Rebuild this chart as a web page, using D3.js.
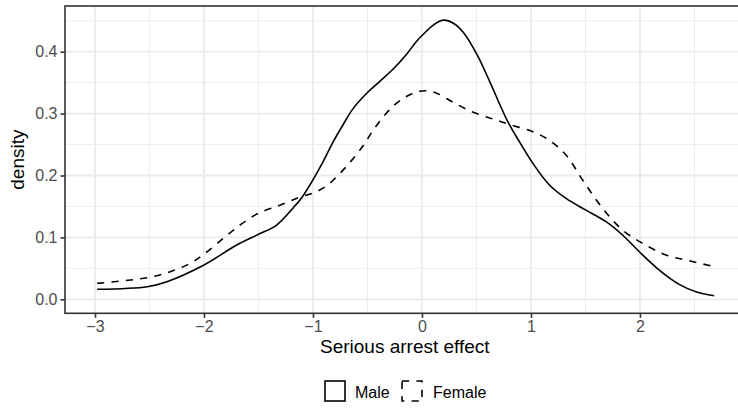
<!DOCTYPE html>
<html>
<head>
<meta charset="utf-8">
<script src="https://cdn.jsdelivr.net/npm/d3@7"></script>
<style>
  html, body { margin: 0; padding: 0; background: #fff; }
  svg { display: block; font-family: "Liberation Sans", Arial, Helvetica, sans-serif; }
</style>
</head>
<body>
<svg id="chart" width="738" height="409"></svg>
<script>
// ---- Data ----
const maleX = [-2.98, -2.52, -2.34, -2.0, -1.70, -1.50, -1.333, -1.18, -1.10, -1.0, -0.908, -0.816, -0.724, -0.632, -0.5, -0.387, -0.264, -0.141, -0.049, 0.006, 0.104, 0.196, 0.288, 0.380, 0.503, 0.626, 0.779, 0.896, 1.017, 1.169, 1.322, 1.505, 1.689, 1.84, 1.994, 2.177, 2.36, 2.513, 2.68];
const maleY = [0.0162, 0.0204, 0.0284, 0.0554, 0.0877, 0.105, 0.120, 0.148, 0.165, 0.193, 0.222, 0.254, 0.282, 0.308, 0.334, 0.352, 0.372, 0.396, 0.417, 0.427, 0.443, 0.451, 0.446, 0.431, 0.396, 0.350, 0.290, 0.254, 0.2197, 0.1847, 0.163, 0.144, 0.1254, 0.1039, 0.0769, 0.0473, 0.0242, 0.0123, 0.0058];
const femaleX = [-2.98, -2.52, -2.31, -2.127, -2.0, -1.822, -1.669, -1.50, -1.303, -1.123, -1.0, -0.877, -0.755, -0.647, -0.540, -0.448, -0.325, -0.202, -0.08, 0.028, 0.135, 0.288, 0.472, 0.656, 0.810, 1.017, 1.169, 1.322, 1.474, 1.657, 1.84, 2.024, 2.238, 2.451, 2.68];
const femaleY = [0.0258, 0.0349, 0.0446, 0.058, 0.073, 0.0985, 0.120, 0.139, 0.152, 0.165, 0.1715, 0.183, 0.203, 0.224, 0.248, 0.273, 0.301, 0.321, 0.333, 0.337, 0.333, 0.318, 0.302, 0.291, 0.282, 0.2708, 0.257, 0.233, 0.1927, 0.147, 0.112, 0.0905, 0.0716, 0.0624, 0.0527];

const seriesNames = ["Male", "Female"];
const xTicks = [-3, -2, -1, 0, 1, 2];
const xMinor = [-2.5, -1.5, -0.5, 0.5, 1.5, 2.5];
const yTicks = [0.0, 0.1, 0.2, 0.3, 0.4];
const yMinor = [0.05, 0.15, 0.25, 0.35, 0.45];
const xTitle = "Serious arrest effect";
const yTitle = "density";

// ---- Layout ----
const panel = { left: 65, top: 6, right: 744.6, bottom: 313.3 };
const xDomain = [-3.275, 2.96];
const yDomain = [-0.0226, 0.4738];

const svg = d3.select("#chart");
const x = d3.scaleLinear().domain(xDomain).range([panel.left, panel.right]);
const y = d3.scaleLinear().domain(yDomain).range([panel.bottom, panel.top]);

const grid = svg.append("g");
// minor grid
grid.selectAll("line.xm").data(xMinor).join("line")
  .attr("x1", d => x(d)).attr("x2", d => x(d))
  .attr("y1", panel.top).attr("y2", panel.bottom)
  .attr("stroke", "#EBEBEB").attr("stroke-width", 0.9);
grid.selectAll("line.ym").data(yMinor).join("line")
  .attr("x1", panel.left).attr("x2", panel.right)
  .attr("y1", d => y(d)).attr("y2", d => y(d))
  .attr("stroke", "#EBEBEB").attr("stroke-width", 0.9);
// major grid
grid.selectAll("line.xM").data(xTicks).join("line")
  .attr("x1", d => x(d)).attr("x2", d => x(d))
  .attr("y1", panel.top).attr("y2", panel.bottom)
  .attr("stroke", "#EBEBEB").attr("stroke-width", 1.8);
grid.selectAll("line.yM").data(yTicks).join("line")
  .attr("x1", panel.left).attr("x2", panel.right)
  .attr("y1", d => y(d)).attr("y2", d => y(d))
  .attr("stroke", "#EBEBEB").attr("stroke-width", 1.8);

// curves
const line = d3.line().x(d => x(d[0])).y(d => y(d[1])).curve(d3.curveCatmullRom.alpha(0.5));
const maleData = maleX.map((v, i) => [v, maleY[i]]);
const femaleData = femaleX.map((v, i) => [v, femaleY[i]]);

svg.append("path").datum(maleData).attr("d", line)
  .attr("fill", "none").attr("stroke", "#000").attr("stroke-width", 1.6);
svg.append("path").datum(femaleData).attr("d", line)
  .attr("fill", "none").attr("stroke", "#000").attr("stroke-width", 1.6)
  .attr("stroke-dasharray", "7.2,7.2");

// panel border
svg.append("rect")
  .attr("x", panel.left).attr("y", panel.top)
  .attr("width", panel.right - panel.left).attr("height", panel.bottom - panel.top)
  .attr("fill", "none").attr("stroke", "#333333").attr("stroke-width", 1.6);

// axes
const xAxis = d3.axisBottom(x).tickValues(xTicks).tickSize(4.5).tickPadding(3).tickFormat(d3.format("d"));
const gx = svg.append("g").attr("transform", `translate(0,${panel.bottom})`).call(xAxis);
gx.select(".domain").remove();
gx.selectAll(".tick line").attr("stroke", "#333333").attr("stroke-width", 1.6);
gx.selectAll(".tick text").attr("fill", "#4D4D4D").attr("font-size", "16px")
  .attr("font-family", "Liberation Sans, Arial, sans-serif");

const yAxis = d3.axisLeft(y).tickValues(yTicks).tickSize(4.5).tickPadding(3).tickFormat(d3.format(".1f"));
const gy = svg.append("g").attr("transform", `translate(${panel.left},0)`).call(yAxis);
gy.select(".domain").remove();
gy.selectAll(".tick line").attr("stroke", "#333333").attr("stroke-width", 1.6);
gy.selectAll(".tick text").attr("fill", "#4D4D4D").attr("font-size", "16px")
  .attr("font-family", "Liberation Sans, Arial, sans-serif");

// axis titles
svg.append("text")
  .attr("x", (panel.left + panel.right) / 2).attr("y", 353)
  .attr("text-anchor", "middle").attr("font-size", "19px").attr("fill", "#000")
  .text(xTitle);
svg.append("text")
  .attr("transform", `translate(24,${(panel.top + panel.bottom) / 2}) rotate(-90)`)
  .attr("text-anchor", "middle").attr("font-size", "19px").attr("fill", "#000")
  .text(yTitle);

// legend
const legend = svg.append("g");
const keyPos = [325, 402];
const textPos = [355, 433];
seriesNames.forEach((name, i) => {
  legend.append("rect")
    .attr("x", keyPos[i]).attr("y", 381)
    .attr("width", 20).attr("height", 20)
    .attr("fill", "#fff").attr("stroke", "#000").attr("stroke-width", 1.6)
    .attr("stroke-dasharray", i === 1 ? "7.2,7.2" : null);
  legend.append("text")
    .attr("x", textPos[i]).attr("y", 397.5)
    .attr("font-size", "16px").attr("fill", "#000")
    .text(name);
});
</script>
</body>
</html>
